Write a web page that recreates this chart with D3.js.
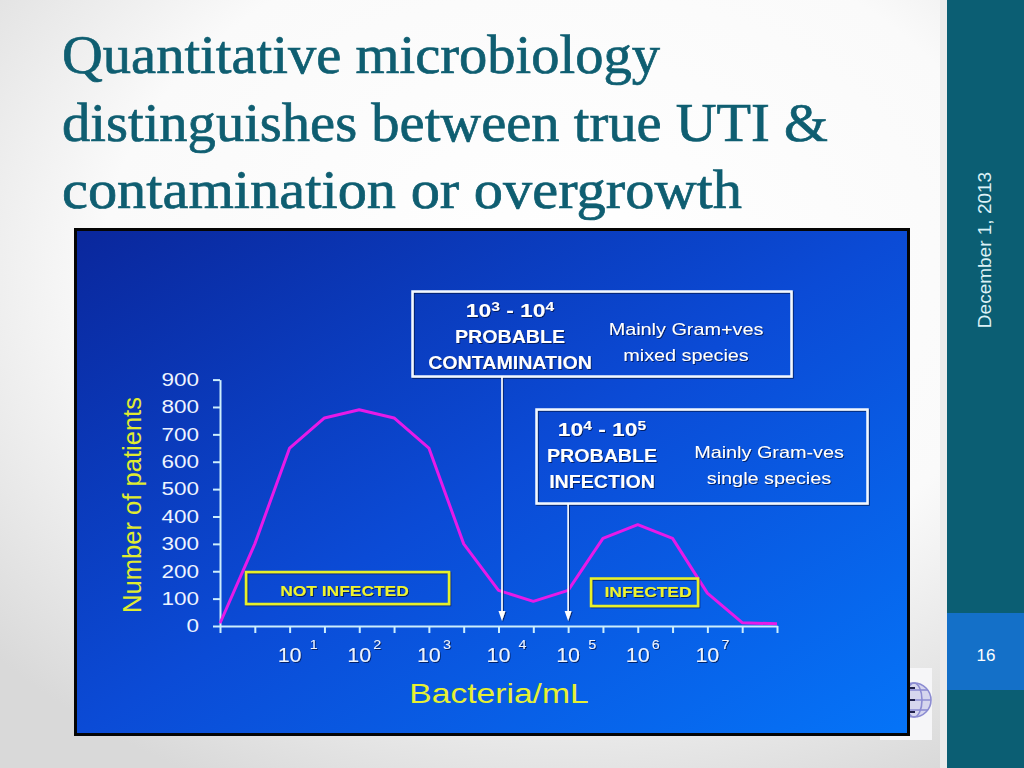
<!DOCTYPE html>
<html>
<head>
<meta charset="utf-8">
<script src="https://cdn.jsdelivr.net/npm/d3@7"></script>
<style>
  body { margin: 0; overflow: hidden; background: #fff; }
  svg { display: block; }
</style>
</head>
<body>
<script>
// values
const logBacteria = [0, 0.5, 1, 1.5, 2, 2.5, 3, 3.5, 4, 4.5, 5, 5.5, 6, 6.5, 7, 7.5, 8]
const patients = [10, 300, 650, 760, 790, 760, 650, 300, 130, 90, 130, 320, 370, 320, 120, 12, 8]
const yTicks = [0, 100, 200, 300, 400, 500, 600, 700, 800, 900]
const xLabelPowers = [1, 2, 3, 4, 5, 6, 7]
const xLabelSpaced = [true, false, false, true, true, false, false]
const arrowAt = [4.05, 5]

const titleLines = ['Quantitative microbiology', 'distinguishes between true UTI &', 'contamination or overgrowth']
const rangeFrom = [3, 4]
const rangeTo = [4, 5]
const rangeWords = [['PROBABLE', 'CONTAMINATION'], ['PROBABLE', 'INFECTION']]
const rangeDetail = [['Mainly Gram+ves', 'mixed species'], ['Mainly Gram-ves', 'single species']]
const groupLabels = ['NOT INFECTED', 'INFECTED']

const W = 1024
const H = 768
const FONT = 'Liberation Sans, Arial, sans-serif'

// widths of the title lines on the slide
const titleSpan = [598, 766, 680]

const svg = d3.select('body').append('svg')
  .attr('width', W)
  .attr('height', H)

const defs = svg.append('defs')

const bg = defs.append('radialGradient')
  .attr('id', 'slide-bg')
  .attr('cx', '0.55').attr('cy', '0.35').attr('r', '0.75')
bg.append('stop').attr('offset', '0%').attr('stop-color', '#ffffff')
bg.append('stop').attr('offset', '60%').attr('stop-color', '#fafafa')
bg.append('stop').attr('offset', '100%').attr('stop-color', '#d9d9d9')

const panelGrad = defs.append('linearGradient')
  .attr('id', 'panel-bg')
  .attr('x1', 0).attr('y1', 0).attr('x2', 1).attr('y2', 1)
panelGrad.append('stop').attr('offset', '0%').attr('stop-color', '#0a279c')
panelGrad.append('stop').attr('offset', '50%').attr('stop-color', '#0b4bd6')
panelGrad.append('stop').attr('offset', '100%').attr('stop-color', '#0574f8')

const shadow = defs.append('filter')
  .attr('id', 'shadow')
  .attr('x', '-10%').attr('y', '-30%').attr('width', '120%').attr('height', '160%')
shadow.append('feDropShadow')
  .attr('dx', 1).attr('dy', 1).attr('stdDeviation', 0.6)
  .attr('flood-color', '#000a40').attr('flood-opacity', 0.75)

/**
 * Widens the glyphs of the selected texts, the slide picture is stretched sideways.
 *
 * @param {*} sel The d3 Selection of text elements
 * @param {number} k The horizontal factor
 */
function stretch (sel, k) {
  sel.each(function () {
    const w = this.getComputedTextLength()
    d3.select(this)
      .attr('textLength', w * k)
      .attr('lengthAdjust', 'spacingAndGlyphs')
  })
}

// slide background and side bar
svg.append('rect').attr('width', W).attr('height', H).attr('fill', 'url(#slide-bg)')
svg.append('rect').attr('x', 940).attr('width', 7).attr('height', H).attr('fill', '#ebebeb')
svg.append('rect').attr('x', 947).attr('width', 77).attr('height', H).attr('fill', '#0b5e73')
svg.append('rect').attr('x', 947).attr('y', 613).attr('width', 77).attr('height', 77).attr('fill', '#1470c8')

svg.append('text')
  .text('16')
  .attr('x', 986).attr('y', 661)
  .attr('text-anchor', 'middle')
  .attr('font-family', FONT).attr('font-size', 17)
  .attr('fill', '#ffffff')

svg.append('text')
  .text('December 1, 2013')
  .attr('transform', 'translate(991,250) rotate(-90)')
  .attr('text-anchor', 'middle')
  .attr('font-family', FONT).attr('font-size', 19)
  .attr('fill', '#dcf1f6')

// title
svg.append('g')
  .selectAll('text')
  .data(titleLines)
  .join('text')
  .text(d => d)
  .attr('x', 62)
  .attr('y', (d, i) => 73 + i * 67.5)
  .attr('font-family', 'Liberation Serif, Times New Roman, serif')
  .attr('font-size', 55)
  .attr('fill', '#0f5e71')
  .attr('stroke', '#0f5e71')
  .attr('stroke-width', 0.7)
  .attr('textLength', (d, i) => titleSpan[i])
  .attr('lengthAdjust', 'spacingAndGlyphs')

// logo peeking out behind the picture
svg.append('rect')
  .attr('x', 880).attr('y', 668).attr('width', 52).attr('height', 72).attr('fill', '#f6f6f8')
const logo = svg.append('g').attr('fill', 'none').attr('stroke', '#8c8cd2').attr('stroke-width', 1.6)
logo.append('circle').attr('cx', 914).attr('cy', 700).attr('r', 17).attr('fill', '#d6d6ee')
logo.append('ellipse').attr('cx', 914).attr('cy', 700).attr('rx', 8).attr('ry', 17)
logo.append('line').attr('x1', 897).attr('x2', 931).attr('y1', 700).attr('y2', 700)
logo.append('line').attr('x1', 900).attr('x2', 928).attr('y1', 690).attr('y2', 690)
logo.append('line').attr('x1', 900).attr('x2', 928).attr('y1', 710).attr('y2', 710)
logo.append('path').attr('d', 'M910,688 h5 M910,700 h5 M910,712 h5').attr('stroke', '#20204a').attr('stroke-width', 2)

// chart picture
svg.append('rect')
  .attr('x', 75.5).attr('y', 229.5)
  .attr('width', 833).attr('height', 505)
  .attr('fill', 'url(#panel-bg)')
  .attr('stroke', '#050505').attr('stroke-width', 3)

const x = d3.scaleLinear().domain([0, 8]).range([220, 777])
const y = d3.scaleLinear().domain([0, 900]).range([626, 379.6])

const chart = svg.append('g')

chart.append('g')
  .attr('class', 'x-axis')
  .attr('transform', 'translate(0,' + y(0) + ')')
  .call(d3.axisBottom(x).tickValues(logBacteria).tickSize(7).tickSizeOuter(0).tickFormat(''))

const yAxis = chart.append('g')
  .attr('class', 'y-axis')
  .attr('transform', 'translate(' + x(0) + ',0)')
  .call(d3.axisLeft(y).tickValues(yTicks).tickSize(7).tickSizeOuter(0).tickPadding(14))

chart.selectAll('.domain, .tick line')
  .attr('stroke', '#cdeefc')
  .attr('stroke-width', 2)

yAxis.selectAll('text')
  .attr('font-family', FONT)
  .attr('font-size', 18)
  .attr('fill', '#eef4ff')
  .call(stretch, 1.25)

// x labels: 10 with the power written above right
const xLabels = chart.append('g')
  .attr('font-family', FONT)
  .attr('fill', '#eef4ff')
  .attr('filter', 'url(#shadow)')

xLabels.selectAll('text.base')
  .data(xLabelPowers)
  .join('text')
  .attr('class', 'base')
  .text('10')
  .attr('x', d => x(d))
  .attr('y', 661.5)
  .attr('text-anchor', 'middle')
  .attr('font-size', 19.5)
  .call(stretch, 1.1)

xLabels.selectAll('text.power')
  .data(xLabelPowers)
  .join('text')
  .attr('class', 'power')
  .text(d => d)
  .attr('x', (d, i) => x(d) + (xLabelSpaced[i] ? 20 : 14))
  .attr('y', 649)
  .attr('font-size', 13)
  .call(stretch, 1.1)

// the count curve
chart.append('path')
  .datum(patients)
  .attr('fill', 'none')
  .attr('stroke', '#e61ae8')
  .attr('stroke-width', 3)
  .attr('stroke-linejoin', 'round')
  .attr('d', d3.line()
    .x((d, i) => x(logBacteria[i]))
    .y(d => y(d)))

// range boxes
const boxes = [
  { left: 412.5, top: 291.5, width: 379, height: 85, col1: 510, col2: 686, row: 26 },
  { left: 536.5, top: 409.5, width: 331, height: 94, col1: 602, col2: 769, row: 26 }
]
const headY = [317, 436]
const detailY = [335, 458]

const notes = chart.append('g').attr('filter', 'url(#shadow)')

boxes.forEach((b, i) => {
  notes.append('rect')
    .attr('x', b.left).attr('y', b.top)
    .attr('width', b.width).attr('height', b.height)
    .attr('fill', 'none')
    .attr('stroke', '#f2f8ff').attr('stroke-width', 2.5)

  const head = notes.append('text')
    .attr('x', b.col1).attr('y', headY[i])
    .attr('text-anchor', 'middle')
    .attr('font-family', FONT).attr('font-weight', 'bold')
    .attr('font-size', 17.5)
    .attr('fill', '#ffffff')
  head.append('tspan').text('10')
  head.append('tspan').text(rangeFrom[i]).attr('dy', -6).attr('font-size', 12)
  head.append('tspan').text(' - 10').attr('dy', 6)
  head.append('tspan').text(rangeTo[i]).attr('dy', -6).attr('font-size', 12)
  head.call(stretch, 1.3)

  notes.selectAll(null)
    .data(rangeWords[i])
    .join('text')
    .text(d => d)
    .attr('x', b.col1)
    .attr('y', (d, j) => headY[i] + b.row + j * b.row)
    .attr('text-anchor', 'middle')
    .attr('font-family', FONT).attr('font-weight', 'bold')
    .attr('font-size', 17.5)
    .attr('fill', '#ffffff')
    .call(stretch, 1.12)

  notes.selectAll(null)
    .data(rangeDetail[i])
    .join('text')
    .text(d => d)
    .attr('x', b.col2)
    .attr('y', (d, j) => detailY[i] + j * b.row)
    .attr('text-anchor', 'middle')
    .attr('font-family', FONT)
    .attr('font-size', 16.5)
    .attr('fill', '#ffffff')
    .call(stretch, 1.2)

  // arrow from the box down to its count
  const ax = x(arrowAt[i])
  notes.append('line')
    .attr('x1', ax).attr('x2', ax)
    .attr('y1', b.top + b.height).attr('y2', 614)
    .attr('stroke', '#ffffff').attr('stroke-width', 1.6)
  notes.append('path')
    .attr('d', 'M' + (ax - 3.5) + ',611 L' + ax + ',621 L' + (ax + 3.5) + ',611 Z')
    .attr('fill', '#ffffff')
})

// infected / not infected labels
const groups = [
  { left: 246, top: 572, width: 203, height: 32, cx: 344.5 },
  { left: 591, top: 578.5, width: 107, height: 27.5, cx: 648 }
]
const labelY = [596, 597]

groups.forEach((g, i) => {
  notes.append('rect')
    .attr('x', g.left).attr('y', g.top)
    .attr('width', g.width).attr('height', g.height)
    .attr('fill', 'none')
    .attr('stroke', '#e6f02a').attr('stroke-width', 2.5)
  notes.append('text')
    .text(groupLabels[i])
    .attr('x', g.cx).attr('y', labelY[i])
    .attr('text-anchor', 'middle')
    .attr('font-family', FONT).attr('font-weight', 'bold')
    .attr('font-size', 14.5)
    .attr('fill', '#eef42e')
    .call(stretch, 1.2)
})

// axis titles
chart.append('text')
  .text('Bacteria/mL')
  .attr('x', 499).attr('y', 703)
  .attr('text-anchor', 'middle')
  .attr('font-family', FONT)
  .attr('font-size', 28)
  .attr('fill', '#e6f032')
  .call(stretch, 1.2)

chart.append('text')
  .text('Number of patients')
  .attr('transform', 'translate(141,505) rotate(-90)')
  .attr('text-anchor', 'middle')
  .attr('font-family', FONT)
  .attr('font-size', 26)
  .attr('fill', '#e0ec30')
  .attr('textLength', 216)
  .attr('lengthAdjust', 'spacingAndGlyphs')
</script>
</body>
</html>
